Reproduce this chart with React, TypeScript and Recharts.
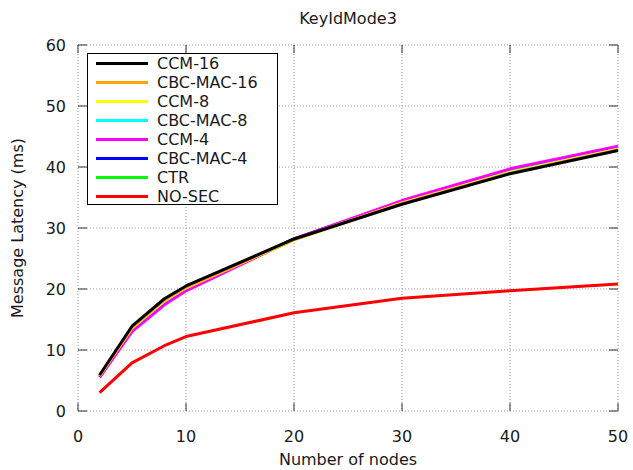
import { LineChart, Line, XAxis, YAxis, CartesianGrid } from 'recharts'

const NODES = [2, 5, 8, 10, 20, 30, 40, 50]

const CCM_16 = [5.9, 13.9, 18.4, 20.5, 28.2, 33.9, 38.9, 42.7]
const CBC_MAC_16 = [5.8, 13.7, 18.2, 20.3, 28.1, 34.0, 39.0, 42.8]
const CCM_8 = [5.8, 13.6, 18.1, 20.2, 28.1, 34.1, 39.1, 42.9]
const CBC_MAC_8 = [5.7, 13.5, 18.0, 20.1, 28.2, 34.2, 39.2, 43.0]
const CCM_4 = [5.5, 13.0, 17.4, 19.7, 28.2, 34.5, 39.7, 43.4]
const CBC_MAC_4 = [5.6, 13.3, 17.7, 19.9, 28.2, 34.3, 39.4, 43.1]
const CTR = [5.7, 13.4, 17.8, 20.0, 28.1, 34.2, 39.3, 43.0]
const NO_SEC = [3.0, 7.9, 10.7, 12.2, 16.1, 18.5, 19.7, 20.8]

const X_TICKS = [0, 10, 20, 30, 40, 50]
const Y_TICKS = [0, 10, 20, 30, 40, 50, 60]

// legend order
const SERIES = [
  { key: 'ccm16', name: 'CCM-16', color: '#000000', values: CCM_16 },
  { key: 'cbcmac16', name: 'CBC-MAC-16', color: '#ffa500', values: CBC_MAC_16 },
  { key: 'ccm8', name: 'CCM-8', color: '#ffff00', values: CCM_8 },
  { key: 'cbcmac8', name: 'CBC-MAC-8', color: '#00ffff', values: CBC_MAC_8 },
  { key: 'ccm4', name: 'CCM-4', color: '#ff00ff', values: CCM_4 },
  { key: 'cbcmac4', name: 'CBC-MAC-4', color: '#0000ff', values: CBC_MAC_4 },
  { key: 'ctr', name: 'CTR', color: '#00ff00', values: CTR },
  { key: 'nosec', name: 'NO-SEC', color: '#ff0000', values: NO_SEC },
]

// drawing order: black last so it sits on top
const DRAW_ORDER = ['nosec', 'cbcmac4', 'ctr', 'cbcmac8', 'ccm4', 'ccm8', 'cbcmac16', 'ccm16']

const data = NODES.map((n, i) => {
  const row: Record<string, number> = { nodes: n }
  SERIES.forEach((s) => {
    row[s.key] = s.values[i]
  })
  return row
})

const WIDTH = 633
const HEIGHT = 470
const PLOT_TOP = 45
const PLOT_RIGHT = 618
const FONT = '"DejaVu Sans", sans-serif'
const TEXT_COLOR = '#1a1a1a'

const XTick = ({ x, y, payload }: any) => (
  <g>
    <line x1={x} y1={y} x2={x} y2={y - 8} stroke="#333" strokeWidth={1} />
    <line x1={x} y1={PLOT_TOP} x2={x} y2={PLOT_TOP + 8} stroke="#333" strokeWidth={1} />
    <text x={x} y={y + 31} textAnchor="middle" fill={TEXT_COLOR} fontSize={16} fontFamily={FONT}>
      {payload.value}
    </text>
  </g>
)

const YTick = ({ x, y, payload }: any) => (
  <g>
    <line x1={x} y1={y} x2={x + 9} y2={y} stroke="#333" strokeWidth={1} />
    <line x1={PLOT_RIGHT - 9} y1={y} x2={PLOT_RIGHT} y2={y} stroke="#333" strokeWidth={1} />
    <text x={x - 12} y={y + 6} textAnchor="end" fill={TEXT_COLOR} fontSize={16} fontFamily={FONT}>
      {payload.value}
    </text>
  </g>
)

const YLabel = ({ viewBox }: any) => {
  const cy = viewBox.y + viewBox.height / 2
  return (
    <text
      transform={`translate(23,${cy}) rotate(-90)`}
      textAnchor="middle"
      fill={TEXT_COLOR}
      fontSize={16}
      fontFamily={FONT}
    >
      Message Latency (ms)
    </text>
  )
}

function LegendBox() {
  return (
    <div
      style={{
        position: 'absolute',
        left: 87,
        top: 53,
        width: 191,
        height: 152,
        border: '1px solid #000',
        background: '#fff',
        fontFamily: FONT,
        fontSize: 16,
        color: TEXT_COLOR,
        boxSizing: 'border-box',
      }}
    >
      {SERIES.map((s) => (
        <div key={s.key} style={{ display: 'flex', alignItems: 'center', height: 19, lineHeight: '19px' }}>
          <div style={{ marginLeft: 8, width: 52, height: 3, background: s.color }} />
          <span style={{ marginLeft: 9 }}>{s.name}</span>
        </div>
      ))}
    </div>
  )
}

export default function App() {
  const byKey = Object.fromEntries(SERIES.map((s) => [s.key, s]))
  return (
    <div style={{ position: 'absolute', left: 0, top: 0, width: WIDTH, height: HEIGHT, background: '#fff' }}>
      <div
        style={{
          position: 'absolute',
          left: 348,
          top: 9,
          transform: 'translateX(-50%)',
          whiteSpace: 'nowrap',
          fontFamily: FONT,
          fontSize: 16,
          color: TEXT_COLOR,
        }}
      >
        KeyIdMode3
      </div>
      <LineChart
        width={WIDTH}
        height={HEIGHT}
        data={data}
        margin={{ top: PLOT_TOP, right: WIDTH - PLOT_RIGHT, bottom: 0, left: 0 }}
      >
        <CartesianGrid stroke="#999" strokeDasharray="1 2" />
        <XAxis
          dataKey="nodes"
          type="number"
          domain={[0, 50]}
          ticks={X_TICKS}
          height={59}
          axisLine={false}
          tickLine={false}
          tickSize={0}
          tickMargin={0}
          tick={<XTick />}
          interval={0}
          label={{
            value: 'Number of nodes',
            position: 'insideBottom',
            offset: 5,
            fill: TEXT_COLOR,
            fontSize: 16,
            fontFamily: FONT,
          }}
        />
        <YAxis
          type="number"
          domain={[0, 60]}
          ticks={Y_TICKS}
          width={78}
          axisLine={false}
          tickLine={false}
          tickSize={0}
          tickMargin={0}
          tick={<YTick />}
          interval={0}
          label={<YLabel />}
        />
        {DRAW_ORDER.map((k) => {
          const s = byKey[k]
          return (
            <Line
              key={s.key}
              type="linear"
              dataKey={s.key}
              name={s.name}
              stroke={s.color}
              strokeWidth={3}
              strokeLinejoin="round"
              dot={false}
              isAnimationActive={false}
            />
          )
        })}
      </LineChart>
      <LegendBox />
    </div>
  )
}
